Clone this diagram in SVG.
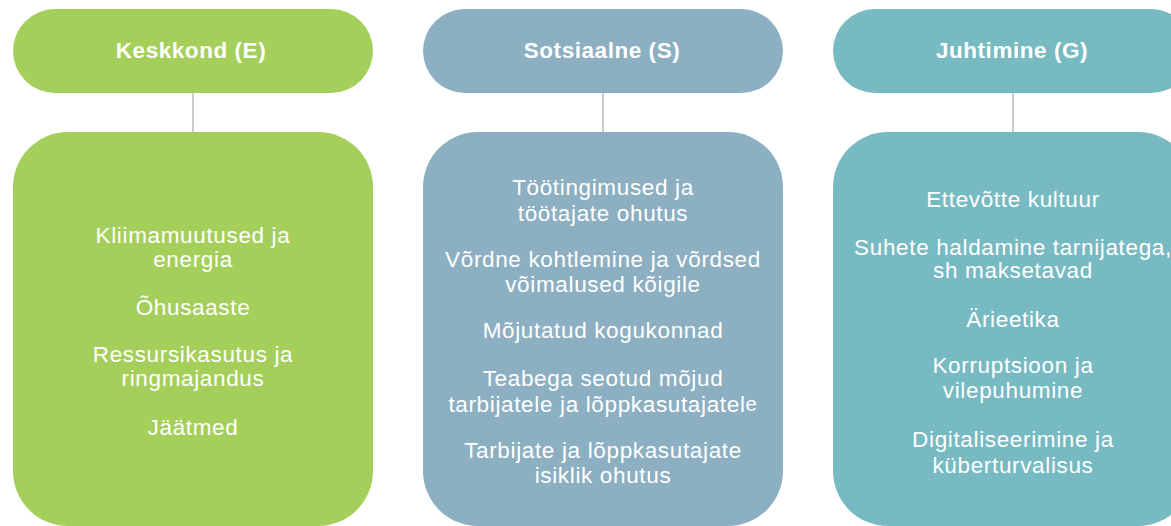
<svg xmlns="http://www.w3.org/2000/svg" width="1171" height="526" viewBox="0 0 1171 526">
<style>
text{font-family:"Liberation Sans",Arial,sans-serif;fill:#ffffff;text-anchor:middle}
.h{font-size:22.5px;font-weight:bold;letter-spacing:0.55px}
.b{font-size:22.5px;letter-spacing:0.65px}
.e{fill:#A5CF5B}.s{fill:#8CAFC2}.g{fill:#78BAC2}
.c{stroke:#BBBBBB;stroke-width:1.5;fill:none}
</style>
<rect width="1171" height="526" fill="#ffffff"/>
<g id="connectors">
<line class="c" x1="193" y1="93" x2="193" y2="133"/>
<line class="c" x1="603" y1="93" x2="603" y2="133"/>
<line class="c" x1="1013" y1="93" x2="1013" y2="133"/>
</g>
<g id="head-e">
<rect class="e" x="13" y="9" width="360" height="84" rx="42"/>
<text class="h" x="191" y="58">Keskkond (E)</text>
</g>
<g id="head-s">
<rect class="s" x="423" y="9" width="360" height="84" rx="42"/>
<text class="h" x="602" y="58">Sotsiaalne (S)</text>
</g>
<g id="head-g">
<rect class="g" x="833" y="9" width="360" height="84" rx="42"/>
<text class="h" x="1012" y="58">Juhtimine (G)</text>
</g>
<g id="body-e">
<rect class="e" x="13" y="132" width="360" height="394" rx="55"/>
<text class="b" x="193" y="243">Kliimamuutused ja</text>
<text class="b" x="193" y="267">energia</text>
<text class="b" x="193" y="315">Õhusaaste</text>
<text class="b" x="193" y="362">Ressursikasutus ja</text>
<text class="b" x="193" y="386">ringmajandus</text>
<text class="b" x="193" y="435">Jäätmed</text>
</g>
<g id="body-s">
<rect class="s" x="423" y="132" width="360" height="394" rx="55"/>
<text class="b" x="603" y="195">Töötingimused ja</text>
<text class="b" x="603" y="221">töötajate ohutus</text>
<text class="b" x="603" y="267">Võrdne kohtlemine ja võrdsed</text>
<text class="b" x="603" y="292">võimalused kõigile</text>
<text class="b" x="603" y="338">Mõjutatud kogukonnad</text>
<text class="b" x="603" y="386">Teabega seotud mõjud</text>
<text class="b" x="603" y="412">tarbijatele ja lõppkasutajatel<tspan font-size="20.5" dy="-1.5">e</tspan></text>
<text class="b" x="603" y="458">Tarbijate ja lõppkasutajate</text>
<text class="b" x="603" y="483">isiklik ohutus</text>
</g>
<g id="body-g">
<rect class="g" x="833" y="132" width="360" height="394" rx="55"/>
<text class="b" x="1013" y="207">Ettevõtte kultuur</text>
<text class="b" x="1013" y="255">Suhete haldamine tarnijatega,</text>
<text class="b" x="1013" y="278">sh maksetavad</text>
<text class="b" x="1013" y="327">Ärieetika</text>
<text class="b" x="1013" y="373">Korruptsioon ja</text>
<text class="b" x="1013" y="398">vilepuhumine</text>
<text class="b" x="1013" y="447">Digitaliseerimine ja</text>
<text class="b" x="1013" y="473">küberturvalisus</text>
</g>
</svg>
